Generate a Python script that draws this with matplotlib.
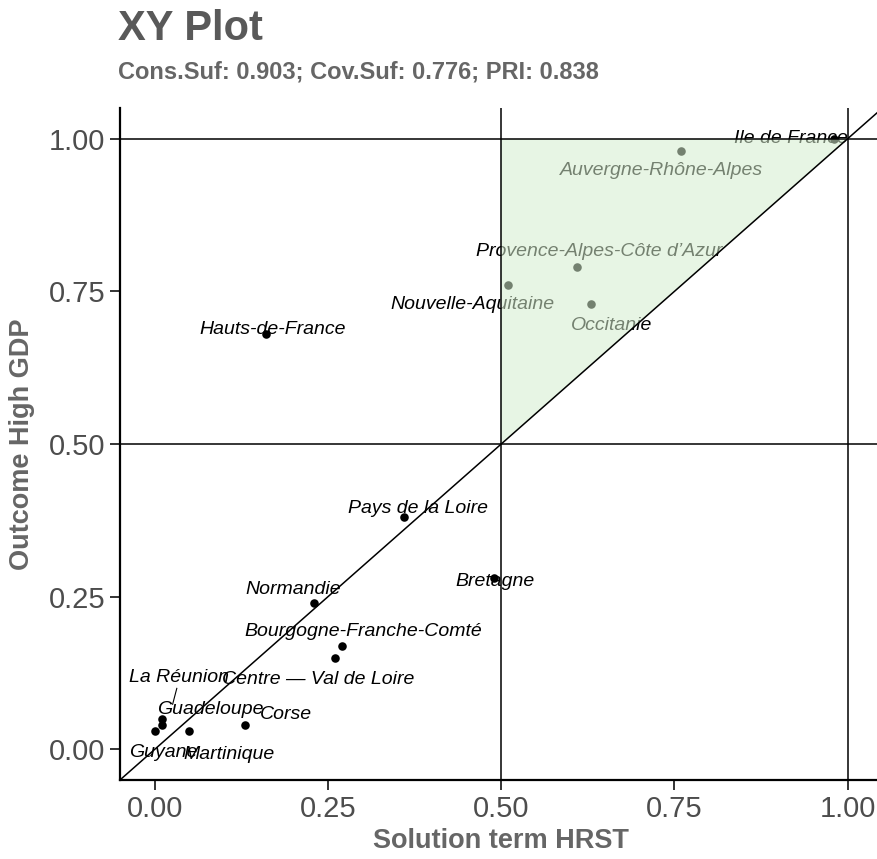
import matplotlib.pyplot as plt
from matplotlib.patches import Polygon

plt.rcParams['font.family'] = ['Liberation Sans', 'DejaVu Sans']

# data
regions = ["Ile de France", "Auvergne-Rhône-Alpes", "Provence-Alpes-Côte d’Azur",
           "Nouvelle-Aquitaine", "Occitanie", "Hauts-de-France", "Pays de la Loire",
           "Bretagne", "Normandie", "Bourgogne-Franche-Comté", "Centre — Val de Loire",
           "Corse", "La Réunion", "Guadeloupe", "Guyane", "Martinique"]
hrst = [0.98, 0.76, 0.61, 0.51, 0.63, 0.16, 0.36, 0.49, 0.23, 0.27, 0.26,
        0.13, 0.01, 0.01, 0.00, 0.05]
gdp = [1.00, 0.98, 0.79, 0.76, 0.73, 0.68, 0.38, 0.28, 0.24, 0.17, 0.15,
       0.04, 0.05, 0.04, 0.03, 0.03]
ticks = [0.0, 0.25, 0.5, 0.75, 1.0]
tick_labels = ["0.00", "0.25", "0.50", "0.75", "1.00"]

# label positions (repel-like placement)
label_pos = [(0.918, 1.0), (0.731, 0.948), (0.642, 0.815), (0.459, 0.728),
             (0.660, 0.695), (0.171, 0.687), (0.380, 0.395), (0.491, 0.275),
             (0.200, 0.262), (0.301, 0.193), (0.236, 0.115), (0.190, 0.057),
             (0.035, 0.118), (0.081, 0.066), (0.012, -0.005), (0.108, -0.008)]

fig = plt.figure(figsize=(8.77, 8.59), dpi=100)
ax = fig.add_axes([0.1368, 0.092, 0.8692, 0.782])

ax.scatter(hrst, gdp, s=38, color='black', zorder=2, linewidths=0)
for name, x, y, (lx, ly) in zip(regions, hrst, gdp, label_pos):
    ax.text(lx, ly, name, fontsize=14, style='italic', ha='center', va='center',
            color='black', zorder=2)
# segment for La Réunion
ax.plot([0.032, 0.026], [0.10, 0.074], color='black', lw=0.8, zorder=2)

# consistency region
tri = Polygon([(0.5, 0.5), (0.5, 1.0), (1.0, 1.0)], closed=True,
              facecolor=(213/255, 237/255, 206/255), alpha=0.55,
              edgecolor='none', zorder=3)
ax.add_patch(tri)

for v in [0.5, 1.0]:
    ax.axhline(v, color='black', lw=1.1, zorder=4)
    ax.axvline(v, color='black', lw=1.1, zorder=4)
ax.axline((0, 0), (1, 1), color='black', lw=1.1, zorder=4)

ax.set_xlim(-0.05, 1.05)
ax.set_ylim(-0.05, 1.05)
ax.set_xticks(ticks)
ax.set_xticklabels(tick_labels)
ax.set_yticks(ticks)
ax.set_yticklabels(tick_labels)
ax.tick_params(labelsize=21, labelcolor='#4d4d4d', color='#333333',
               length=7, width=1.4)
for s in ['top', 'right']:
    ax.spines[s].set_visible(False)
for s in ['left', 'bottom']:
    ax.spines[s].set_linewidth(1.6)

ax.set_xlabel("Solution term HRST", fontsize=19.5, fontweight='bold',
              color='#666666', labelpad=4)
ax.set_ylabel("Outcome High GDP", fontsize=19.5, fontweight='bold',
              color='#666666', labelpad=10)

fig.text(0.1345, 0.953, "XY Plot", fontsize=30, fontweight='bold',
         color='#595959', ha='left', va='baseline')
fig.text(0.1345, 0.909, "Cons.Suf: 0.903; Cov.Suf: 0.776; PRI: 0.838",
         fontsize=17, fontweight='bold', color='#666666', ha='left', va='baseline')

fig.savefig('out.png', dpi=100)
